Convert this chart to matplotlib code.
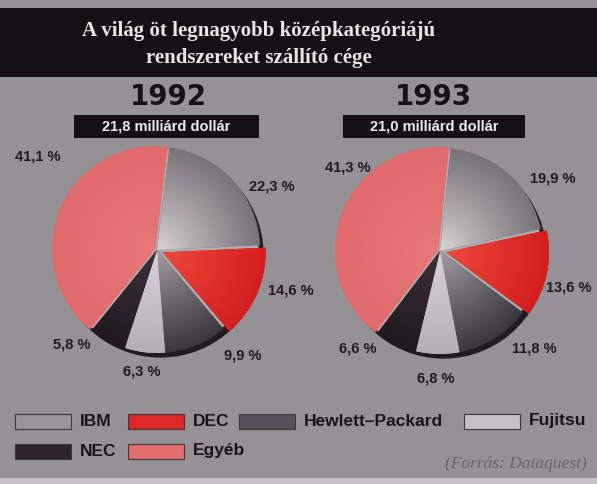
import numpy as np
import matplotlib
matplotlib.use("Agg")
import matplotlib.pyplot as plt
from matplotlib.patches import Rectangle, Circle

# ---------------- data ----------------
title_lines = ["A világ öt legnagyobb középkategóriájú", "rendszereket szállító cége"]
companies = ["IBM", "DEC", "Hewlett–Packard", "Fujitsu", "NEC", "Egyéb"]
years = ["1992", "1993"]
totals = ["21,8 milliárd dollár", "21,0 milliárd dollár"]
shares_1992 = [22.3, 14.6, 9.9, 6.3, 5.8, 41.1]
shares_1993 = [19.9, 13.6, 11.8, 6.8, 6.6, 41.3]
source = "(Forrás: Dataquest)"

# ---------------- style / layout ----------------
W, H = 597, 484
BG = (148/255, 146/255, 149/255)
inner_cols = [(218, 215, 215), (238, 75, 62), (168, 163, 168), (218, 215, 218), (62, 52, 58), (232, 122, 120)]
outer_cols = [(118, 116, 119), (212, 30, 30), (58, 54, 62), (178, 176, 180), (32, 26, 32), (224, 106, 108)]
legend_cols = [(152, 150, 152), (222, 38, 36), (86, 81, 92), (196, 193, 197), (44, 36, 42), (226, 110, 110)]
start_from_top = [7, 6]            # degrees clockwise from 12 o'clock
explode = [0, 0.06, 0, 0, 0, 0.02]
centers = [(157, 250), (440, 251)]  # px
R = 103                             # px
label_polar = [
    [(61, 1.28), (107, 1.36), (141, 1.32), (187, 1.19), (222, 1.23), (308, 1.47)],
    [(57, 1.30), (106, 1.30), (136, 1.32), (182, 1.24), (220, 1.24), (312, 1.21)],
]
header_x = [168, 433]
box_x = [(74, 259), (343, 525)]

SANS = ["Liberation Sans", "DejaVu Sans"]
SERIF = ["Liberation Serif", "DejaVu Serif"]


def c(rgb):
    return tuple(v / 255 for v in rgb)


def fx(x):
    return x / W


def fy(y):
    return 1 - y / H


fig = plt.figure(figsize=(W / 100, H / 100), dpi=100, facecolor=BG)

# bottom scan strip
fig.add_artist(Rectangle((0, 0), 1, 6 / H, transform=fig.transFigure,
                         facecolor=(0.78, 0.77, 0.78), edgecolor="none"))
# title bar
fig.add_artist(Rectangle((0, fy(77)), 1, (77 - 8) / H, transform=fig.transFigure,
                         facecolor=c((22, 16, 22)), edgecolor="none"))
for line, yb in zip(title_lines, [36, 63]):
    fig.text(fx(259), fy(yb), line, ha="center", va="baseline", color=c((236, 228, 228)),
             fontsize=15, fontweight="bold", family=SERIF)

# ---------------- pies ----------------
gx = np.linspace(-1.3, 1.3, 400)
GX, GY = np.meshgrid(gx, gx)

for k, vals in enumerate([shares_1992, shares_1993]):
    cx, cy = centers[k]
    size = 3 * R
    ax = fig.add_axes([fx(cx - size / 2), (H - cy - size / 2) / H, size / W, size / H])
    ax.set_xlim(-1.5, 1.5)
    ax.set_ylim(-1.5, 1.5)
    ax.axis("off")
    ax.patch.set_alpha(0)

    # 3D rim / shadow and a light base under the slices
    ax.add_patch(Circle((0.035, -0.045), 1.0, facecolor=c((34, 28, 34)), edgecolor="none", zorder=0))
    ax.add_patch(Circle((0, 0), 0.985, facecolor=c((175, 172, 176)), edgecolor="none", zorder=0.5))

    wedges, _ = ax.pie(vals, startangle=90 - start_from_top[k], counterclock=False,
                       colors=[c(o) for o in outer_cols], explode=explode, radius=1.0,
                       wedgeprops=dict(edgecolor="none", linewidth=0))
    for i, w in enumerate(wedges):
        w.set_zorder(1)
        ox, oy = w.center
        r = np.sqrt((GX - ox) ** 2 + (GY - oy) ** 2)
        t = np.clip(r, 0, 1) ** 0.9
        inn = np.array(inner_cols[i]) / 255
        out = np.array(outer_cols[i]) / 255
        img = inn[None, None, :] * (1 - t[..., None]) + out[None, None, :] * t[..., None]
        im = ax.imshow(img, extent=[-1.3, 1.3, -1.3, 1.3], origin="lower",
                       interpolation="bilinear", zorder=2)
        im.set_clip_path(w)

    # labels
    for i, v in enumerate(vals):
        ang, dist = label_polar[k][i]
        a = np.deg2rad(ang)
        lx, ly = dist * np.sin(a), dist * np.cos(a)
        txt = f"{v:.1f}".replace(".", ",") + " %"
        ax.text(lx, ly, txt, ha="center", va="center", fontsize=10.5, fontweight="bold",
                color=c((30, 26, 34)), family=SANS, zorder=5)

    ax.set_xlim(-1.5, 1.5)
    ax.set_ylim(-1.5, 1.5)

    # headers
    fig.text(fx(header_x[k]), fy(97), years[k], ha="center", va="center", fontsize=20,
             fontweight="bold", color=c((22, 18, 24)), family=["DejaVu Sans"])
    x0, x1 = box_x[k]
    fig.add_artist(Rectangle((fx(x0), fy(137.5)), (x1 - x0) / W, 22.5 / H, transform=fig.transFigure,
                             facecolor=c((22, 16, 22)), edgecolor="none"))
    fig.text(fx((x0 + x1) / 2), fy(126.5), totals[k], ha="center", va="center", fontsize=10.5,
             fontweight="bold", color=c((238, 234, 236)), family=SANS)

# ---------------- legend ----------------
leg_x = [15, 128, 239, 464, 15, 128]
leg_y = [421, 421, 421, 421, 451, 451]
sw_w, sw_h = 56, 15
for i, name in enumerate(companies):
    x, y = leg_x[i], leg_y[i]
    fig.add_artist(Rectangle((fx(x), fy(y + sw_h / 2)), sw_w / W, sw_h / H, transform=fig.transFigure,
                             facecolor=c(legend_cols[i]), edgecolor=c((60, 56, 62)), linewidth=0.8))
    fig.text(fx(x + 65), fy(y), name, ha="left", va="center", fontsize=12.5, fontweight="bold",
             color=c((24, 20, 28)), family=SANS)

fig.text(fx(587), fy(468), source, ha="right", va="baseline", fontsize=12.5, style="italic",
         color=c((104, 100, 112)), family=SERIF)

fig.savefig("out.png", dpi=100, facecolor=BG)
